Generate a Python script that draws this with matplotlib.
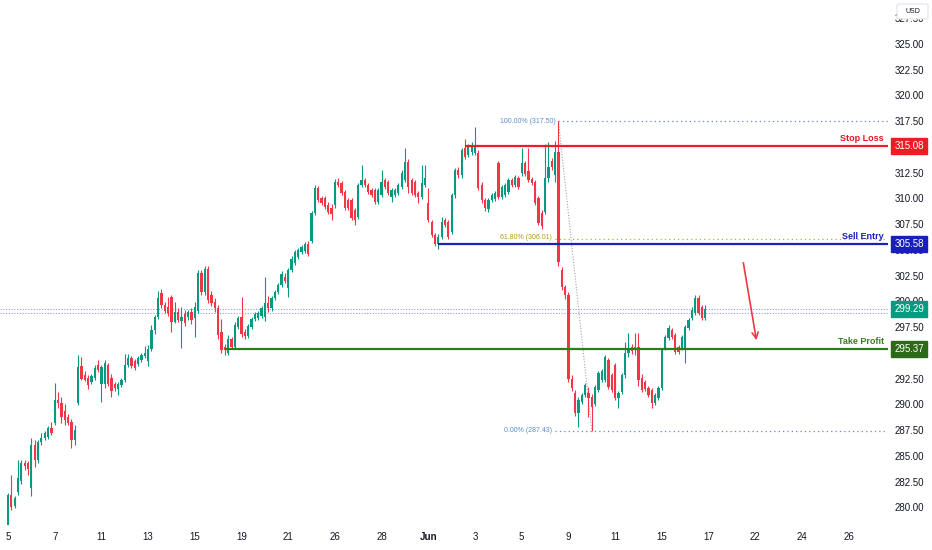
import matplotlib
matplotlib.use("Agg")
import matplotlib.pyplot as plt
from matplotlib.patches import FancyBboxPatch
import numpy as np

plt.rcParams['font.family'] = ['Liberation Sans', 'DejaVu Sans']

# hourly candles (7 bars per session)
opens = [278.1, 281.2, 280.1, 281.5, 282.6, 284.3, 284.3, 281.9, 286.0, 284.6,
         286.3, 286.7, 286.8, 287.7, 288.2, 290.4, 290.1, 289.3, 288.8, 288.3,
         286.5, 290.1, 293.7, 292.8, 292.6, 292.2, 292.6, 293.8, 292.0, 292.0,
         293.8, 292.6, 292.0, 291.5, 291.9, 292.4, 293.8, 294.5, 294.2, 293.9,
         294.3, 294.7, 294.2, 295.4, 297.2, 298.5, 300.8, 299.6, 299.4, 300.4,
         298.0, 299.0, 298.1, 298.8, 298.5, 299.0, 298.4, 299.1, 302.7, 300.9,
         303.1, 300.6, 299.9, 299.3, 297.0, 295.6, 295.0, 296.3, 295.6, 297.5,
         298.5, 297.0, 296.6, 297.5, 298.3, 298.4, 298.6, 298.5, 299.8, 299.3,
         300.3, 300.9, 301.6, 302.4, 301.3, 303.0, 303.7, 304.3, 304.8, 304.9,
         305.6, 305.9, 308.6, 311.0, 310.0, 310.0, 309.3, 309.1, 309.3, 311.6,
         311.5, 310.6, 309.8, 309.8, 308.9, 308.2, 311.3, 311.8, 311.3, 310.8,
         310.8, 309.6, 310.3, 311.8, 311.6, 310.1, 310.3, 310.5, 311.1, 311.8,
         313.5, 311.8, 311.6, 310.5, 310.1, 311.3, 309.5, 307.7, 306.4, 305.6,
         306.2, 307.9, 307.7, 306.7, 310.3, 312.7, 312.3, 314.9, 314.2, 314.5,
         314.4, 314.4, 311.3, 309.8, 309.0, 309.8, 309.9, 313.4, 310.1, 310.3,
         310.6, 311.8, 311.3, 312.0, 312.5, 313.4, 312.6, 311.9, 311.6, 310.0,
         308.6, 308.7, 312.0, 313.6, 312.3, 314.5, 303.0, 301.4, 300.6, 292.5,
         291.1, 289.2, 290.2, 290.9, 291.1, 290.7, 290.0, 291.4, 292.4, 292.4,
         294.3, 292.8, 293.8, 290.6, 291.2, 292.8, 295.0, 295.6, 295.6, 295.6,
         292.6, 292.2, 291.6, 291.4, 290.1, 290.6, 291.6, 295.5, 296.4, 297.2,
         296.7, 295.6, 295.5, 295.3, 297.4, 298.4, 298.9, 300.3, 299.4, 298.4]

highs = [281.4, 283.1, 281.1, 284.6, 284.6, 284.6, 284.5, 286.7, 286.5, 286.5,
         287.2, 287.4, 287.9, 288.3, 292.1, 291.2, 290.7, 290.0, 289.1, 288.6,
         288.0, 294.8, 294.6, 293.2, 292.8, 292.9, 293.8, 294.3, 293.8, 294.3,
         294.0, 292.9, 292.2, 292.2, 292.6, 294.9, 294.9, 294.7, 294.4, 294.7,
         295.0, 295.7, 295.8, 297.7, 298.7, 301.0, 301.2, 299.9, 300.4, 300.6,
         299.9, 299.3, 299.4, 299.2, 299.2, 299.3, 299.9, 303.0, 303.0, 303.4,
         303.4, 301.0, 300.3, 299.6, 298.3, 295.9, 296.7, 296.5, 298.0, 298.6,
         300.4, 297.3, 297.8, 298.5, 299.0, 299.1, 299.5, 302.4, 300.5, 300.5,
         301.1, 301.8, 302.9, 302.7, 303.2, 304.4, 305.0, 305.2, 305.5, 305.8,
         305.9, 308.8, 311.3, 311.2, 310.2, 310.2, 309.6, 309.4, 311.9, 312.0,
         311.7, 310.8, 310.0, 310.0, 309.1, 311.5, 313.2, 312.0, 311.5, 311.0,
         311.0, 311.0, 312.7, 312.0, 311.8, 311.0, 311.0, 311.5, 312.7, 314.9,
         313.8, 312.0, 311.8, 310.7, 313.2, 313.2, 311.0, 307.9, 306.6, 306.5,
         308.2, 308.1, 307.9, 310.5, 312.9, 313.0, 314.9, 315.8, 315.3, 315.5,
         316.9, 314.7, 311.6, 310.0, 310.0, 310.5, 310.7, 313.6, 311.3, 311.5,
         312.0, 312.0, 312.3, 312.2, 314.9, 313.6, 314.9, 312.1, 311.8, 310.2,
         308.9, 315.3, 315.5, 313.9, 315.6, 317.5, 303.3, 301.6, 300.9, 292.8,
         291.4, 290.7, 291.1, 292.1, 291.7, 291.0, 291.9, 293.2, 293.4, 294.8,
         294.5, 293.0, 294.0, 291.3, 293.0, 296.0, 296.9, 295.9, 296.9, 296.9,
         292.9, 292.4, 291.8, 291.6, 291.1, 291.8, 295.5, 296.7, 297.7, 297.4,
         296.9, 295.8, 296.7, 297.7, 298.4, 299.4, 300.6, 300.6, 299.6, 299.6]

lows = [277.9, 279.7, 279.9, 281.2, 282.3, 283.6, 283.1, 281.1, 283.9, 284.3,
        286.0, 286.5, 286.6, 287.0, 288.0, 289.6, 288.2, 288.0, 288.0, 285.8,
        286.0, 289.9, 292.4, 292.3, 291.5, 292.0, 292.4, 293.1, 290.2, 291.6,
        291.8, 290.7, 291.3, 290.9, 291.7, 292.2, 293.6, 293.5, 293.3, 293.7,
        294.1, 294.5, 293.7, 295.2, 296.8, 298.3, 299.3, 298.9, 298.6, 297.0,
        297.9, 298.0, 295.5, 297.6, 298.2, 297.8, 296.5, 298.9, 300.6, 300.6,
        299.8, 299.5, 299.0, 296.3, 295.0, 294.8, 294.8, 295.4, 295.4, 297.3,
        296.5, 296.3, 296.4, 297.3, 298.1, 298.2, 298.4, 298.1, 299.0, 299.1,
        300.1, 300.7, 301.4, 301.8, 300.4, 302.8, 303.5, 304.1, 304.6, 304.7,
        304.4, 305.7, 308.4, 309.6, 309.3, 309.0, 308.5, 307.9, 309.1, 311.1,
        310.3, 308.9, 308.9, 307.9, 307.4, 308.0, 311.1, 311.1, 310.4, 310.1,
        309.4, 309.4, 310.1, 310.9, 310.3, 309.6, 310.1, 310.3, 310.9, 311.6,
        310.5, 310.3, 310.1, 309.5, 309.9, 311.1, 307.7, 306.2, 305.4, 305.1,
        306.0, 307.2, 306.0, 306.5, 310.0, 312.0, 312.0, 313.8, 314.0, 314.2,
        314.2, 310.8, 309.5, 308.8, 308.7, 309.6, 309.7, 309.9, 309.9, 310.1,
        310.4, 311.1, 311.1, 310.9, 312.2, 312.2, 311.6, 311.3, 309.3, 307.4,
        307.0, 308.5, 311.6, 312.7, 311.6, 303.4, 301.1, 300.2, 292.2, 291.3,
        288.9, 287.8, 290.0, 290.7, 288.8, 287.43, 289.8, 291.2, 292.2, 292.2,
        291.5, 291.2, 290.4, 289.6, 291.0, 292.6, 294.6, 294.9, 294.8, 291.8,
        291.2, 291.3, 290.7, 289.6, 289.9, 290.4, 291.4, 295.3, 296.2, 296.3,
        294.9, 294.9, 295.3, 294.0, 297.2, 298.2, 298.7, 298.7, 298.2, 298.2]

closes = [281.2, 280.0, 280.9, 282.8, 284.3, 284.0, 283.7, 286.0, 284.6, 286.3,
          286.7, 287.2, 287.7, 287.2, 290.4, 290.1, 288.8, 288.5, 288.2, 286.5,
          287.5, 293.6, 292.5, 292.4, 291.9, 292.7, 293.5, 293.3, 293.6, 294.0,
          292.0, 291.3, 291.6, 292.0, 292.4, 293.8, 294.5, 293.7, 293.5, 294.5,
          294.8, 295.0, 295.4, 297.2, 298.5, 300.3, 299.6, 299.1, 298.9, 298.0,
          299.0, 298.2, 298.5, 297.9, 299.0, 298.2, 299.4, 302.7, 300.9, 303.1,
          300.1, 299.8, 299.3, 296.7, 295.3, 295.3, 296.3, 295.6, 297.7, 298.4,
          296.8, 296.6, 297.6, 298.3, 298.8, 298.9, 299.3, 299.8, 299.3, 300.3,
          300.9, 301.6, 302.6, 302.0, 303.0, 304.1, 304.8, 305.0, 305.3, 305.6,
          304.6, 308.6, 311.0, 309.8, 309.5, 309.2, 308.7, 308.5, 311.6, 311.3,
          310.5, 309.1, 309.1, 308.1, 307.9, 311.3, 311.8, 311.3, 310.6, 310.3,
          309.6, 310.8, 311.6, 311.1, 310.5, 310.8, 310.8, 311.3, 312.5, 313.5,
          311.1, 310.5, 310.3, 310.1, 311.5, 312.0, 307.9, 306.4, 305.6, 306.2,
          307.7, 307.4, 306.2, 310.3, 312.7, 312.3, 314.7, 314.0, 315.1, 315.2,
          315.0, 311.0, 309.8, 309.1, 309.8, 310.3, 310.5, 310.1, 311.1, 311.3,
          311.8, 311.3, 312.1, 311.1, 313.4, 312.4, 311.8, 311.5, 309.5, 307.6,
          307.3, 312.0, 313.0, 313.0, 314.5, 303.8, 301.4, 300.6, 292.5, 291.6,
          289.2, 290.4, 290.9, 291.9, 290.6, 289.7, 291.7, 293.0, 293.2, 294.6,
          291.7, 291.4, 290.6, 291.1, 292.8, 295.0, 295.5, 295.2, 295.3, 292.4,
          291.4, 291.5, 290.9, 290.1, 290.9, 291.6, 295.3, 296.5, 297.4, 296.5,
          295.1, 295.1, 296.5, 297.5, 298.2, 299.2, 300.3, 298.9, 298.4, 299.29]

tick_pos = [0, 14, 28, 42, 56, 70, 84, 98, 112, 126, 140, 154, 168, 182, 196, 210, 224, 238, 252]
tick_labels = ['5', '7', '11', '13', '15', '19', '21', '26', '28', 'Jun',
               '3', '5', '9', '11', '15', '17', '22', '24', '26']
price_ticks = [280.0, 282.5, 285.0, 287.5, 290.0, 292.5, 295.0, 297.5, 300.0, 302.5,
               305.0, 307.5, 310.0, 312.5, 315.0, 317.5, 320.0, 322.5, 325.0, 327.5]
# these two sit fully under the level boxes on the price scale
hidden_ticks = [295.0, 315.0]

stop_loss = 315.08
sell_entry = 305.58
take_profit = 295.37
last_price = 299.29
fib_high, fib_mid, fib_low = 317.50, 306.01, 287.43

GREEN = '#089981'
RED = '#f23645'
TXT = '#131722'

o = np.array(opens)
h = np.array(highs)
l = np.array(lows)
c = np.array(closes)
x = np.arange(len(o))
up = c >= o
cols = np.where(up, GREEN, RED)

fig = plt.figure(figsize=(9.32, 5.5), dpi=100)
ax = fig.add_axes([0, 25 / 550, 888 / 932, 525 / 550])
x_right = 263.8
ax.set_xlim(-2.4, x_right)
ax.set_ylim(278.28, 329.25)

# candles
ax.vlines(x, l, h, colors=cols, linewidth=0.8, zorder=3)
body_lo = np.minimum(o, c)
body_h = np.maximum(np.abs(c - o), 0.08)
ax.bar(x, body_h, bottom=body_lo, width=0.68, color=cols, linewidth=0, zorder=4)

# last price dotted lines
ax.axhline(last_price, color='#8aa5c8', linestyle=(0, (1, 1.5)), linewidth=0.8, zorder=2)
ax.axhline(298.85, color='#a29bdc', linestyle=(0, (1, 1.5)), linewidth=0.8, zorder=2)

# fib retracement
fib_x0 = 165
ax.hlines(fib_high, fib_x0, x_right, colors='#5b8fc7', linestyles=(0, (1, 2.5)), linewidth=0.9)
ax.hlines(fib_mid, fib_x0 - 1, x_right, colors='#c9a630', linestyles=(0, (1, 2.5)), linewidth=0.9)
ax.hlines(fib_low, fib_x0 - 1, x_right, colors='#5b8fc7', linestyles=(0, (1, 2.5)), linewidth=0.9)
ax.plot([fib_x0, 175], [fib_high, fib_low], color='#a0a3ab', linestyle=(0, (1, 1.5)), linewidth=0.8)
ax.annotate('100.00% (317.50)', xy=(fib_x0, fib_high), xytext=(-2, 0), textcoords='offset points',
            ha='right', va='center', fontsize=5, color='#5b8fc7')
ax.annotate('61.80% (306.01)', xy=(fib_x0 - 1, fib_mid), xytext=(-2, 1), textcoords='offset points',
            ha='right', va='center', fontsize=5, color='#b8961e')
ax.annotate('0.00% (287.43)', xy=(fib_x0 - 1, fib_low), xytext=(-2, 0), textcoords='offset points',
            ha='right', va='center', fontsize=5, color='#5b8fc7')

# trade levels
levels = [(stop_loss, 137, '#ee1c25', '#ee1c25', 'Stop Loss', '#e3171f'),
          (sell_entry, 129, '#1c22b8', '#1a1fb5', 'Sell Entry', '#1c22b8'),
          (take_profit, 65, '#2f7d1a', '#2d6a17', 'Take Profit', '#3a7d20')]
ytr = ax.get_yaxis_transform()
for val, x0, lc, bc, name, tc in levels:
    ax.hlines(val, x0, x_right, colors=lc, linewidth=1.6, zorder=5)
    ax.annotate(name, xy=(1, val), xycoords=ytr, xytext=(-3, 2), textcoords='offset points',
                ha='right', va='bottom', fontsize=6.5, fontweight='bold', color=tc)
    ax.annotate(f'{val:.2f}', xy=(1, val), xycoords=ytr, xytext=(4.5, 0), textcoords='offset points',
                ha='left', va='center', fontsize=7, color='white', zorder=10, annotation_clip=False,
                bbox=dict(boxstyle='square,pad=0.3', fc=bc, ec=bc))
ax.annotate(f'{last_price:.2f}', xy=(1, last_price), xycoords=ytr, xytext=(4.5, 0),
            textcoords='offset points', ha='left', va='center', fontsize=7, color='white',
            zorder=10, annotation_clip=False,
            bbox=dict(boxstyle='square,pad=0.3', fc=GREEN, ec=GREEN))

# arrow
ax.annotate('', xy=(224.5, 295.95), xytext=(220.3, 304.0),
            arrowprops=dict(arrowstyle='->', color=RED, lw=1.2, mutation_scale=11))

# axes styling
for s in ax.spines.values():
    s.set_visible(False)
ax.yaxis.tick_right()
ax.set_yticks(price_ticks)
ax.set_yticklabels(['' if v in hidden_ticks else f'{v:.2f}' for v in price_ticks])
ax.tick_params(axis='y', length=0, pad=5, labelsize=7, labelcolor=TXT)
ax.set_xticks(tick_pos)
ax.set_xticklabels(tick_labels)
ax.tick_params(axis='x', length=0, pad=5, labelsize=7, labelcolor=TXT)
for t in ax.get_xticklabels():
    if t.get_text() == 'Jun':
        t.set_fontweight('bold')

# currency box on top of the price scale
fig.patches.append(FancyBboxPatch((897 / 932, 1 - 19 / 550), 31 / 932, 15 / 550,
                                  boxstyle='round,pad=0,rounding_size=0.003',
                                  transform=fig.transFigure, fc='white', ec='#e0e3eb',
                                  lw=0.8, zorder=2))
fig.text(912.5 / 932, 1 - 11.5 / 550, 'USD', ha='center', va='center', fontsize=5, color=TXT,
         zorder=3)

fig.savefig('out.png', dpi=100)
